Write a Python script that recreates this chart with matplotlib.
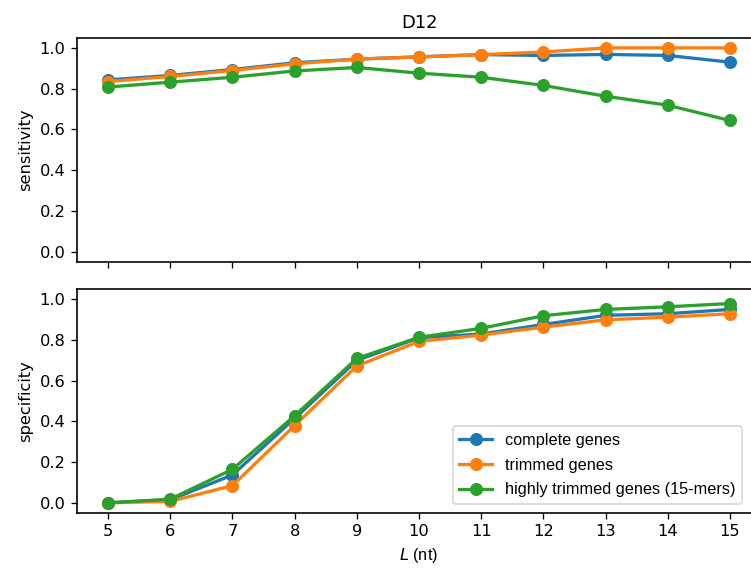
import matplotlib
matplotlib.use("Agg")
import matplotlib.pyplot as plt

L = [5, 6, 7, 8, 9, 10, 11, 12, 13, 14, 15]

sens_complete = [0.843, 0.865, 0.894, 0.927, 0.945, 0.956, 0.967, 0.963, 0.968, 0.963, 0.930]
sens_trimmed = [0.835, 0.860, 0.889, 0.922, 0.945, 0.956, 0.967, 0.980, 1.000, 1.000, 1.000]
sens_high = [0.808, 0.832, 0.856, 0.887, 0.904, 0.876, 0.856, 0.816, 0.763, 0.719, 0.644]

spec_complete = [0.0, 0.015, 0.137, 0.415, 0.700, 0.812, 0.830, 0.877, 0.922, 0.930, 0.951]
spec_trimmed = [0.0, 0.007, 0.085, 0.380, 0.673, 0.794, 0.825, 0.864, 0.900, 0.913, 0.930]
spec_high = [0.0, 0.018, 0.165, 0.428, 0.710, 0.814, 0.858, 0.920, 0.951, 0.964, 0.980]

labels = ["complete genes", "trimmed genes", "highly trimmed genes (15-mers)"]
colors = ["#1f77b4", "#ff7f0e", "#2ca02c"]
yticks = [0.0, 0.2, 0.4, 0.6, 0.8, 1.0]

dpi = 117.3
fig = plt.figure(figsize=(751 / dpi, 577 / dpi), dpi=dpi)
W, H = 751, 577
left, right = 77, 761
ax1 = fig.add_axes([left / W, 1 - 262 / H, (right - left) / W, (262 - 37.7) / H])
ax2 = fig.add_axes([left / W, 1 - 513 / H, (right - left) / W, (513 - 289.3) / H], sharex=ax1)

for ax, series in ((ax1, (sens_complete, sens_trimmed, sens_high)),
                   (ax2, (spec_complete, spec_trimmed, spec_high))):
    for s, c, lab in zip(series, colors, labels):
        ax.plot(L, s, "-o", color=c, label=lab, lw=2.0, ms=7)
    ax.set_yticks(yticks)
    ax.set_ylim(-0.05, 1.05)
    for sp in ax.spines.values():
        sp.set_linewidth(1.0)

ax1.tick_params(labelbottom=False)
ax1.set_ylabel("sensitivity")
ax2.set_ylabel("specificity")
ax2.set_xticks(L)
ax1.set_title("D12", fontsize=11)
ax2.set_xlabel(r"$\mathbf{\mathit{L}}$ (nt)", family="Liberation Sans", fontsize=10)

ax2.legend(loc="lower right", bbox_to_anchor=(742 / W, 1 - 504 / H),
           bbox_transform=fig.transFigure, borderaxespad=0, labelspacing=0.6,
           prop={"family": "Liberation Sans", "size": 10})

fig.savefig("out.png", dpi=dpi)
